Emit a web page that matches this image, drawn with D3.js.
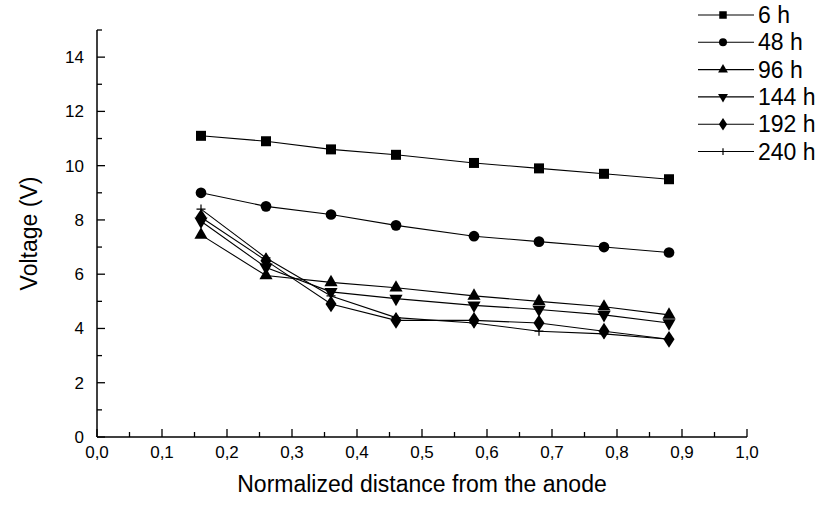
<!DOCTYPE html>
<html>
<head>
<meta charset="utf-8">
<script src="https://cdn.jsdelivr.net/npm/d3@7"></script>
<style>
  body { margin: 0; background: #fff; }
  svg { font-family: "Liberation Sans", Arial, sans-serif; }
</style>
</head>
<body>
<svg id="chart" width="824" height="505"></svg>
<script>
// data
let distances = [0.16, 0.26, 0.36, 0.46, 0.58, 0.68, 0.78, 0.88];
let seriesNames = ["6 h", "48 h", "96 h", "144 h", "192 h", "240 h"];
let v6 = [11.1, 10.9, 10.6, 10.4, 10.1, 9.9, 9.7, 9.5];
let v48 = [9.0, 8.5, 8.2, 7.8, 7.4, 7.2, 7.0, 6.8];
let v96 = [7.45, 5.95, 5.7, 5.5, 5.2, 5.0, 4.8, 4.5];
let v144 = [7.95, 6.25, 5.35, 5.1, 4.85, 4.7, 4.5, 4.2];
let v192 = [8.1, 6.5, 4.9, 4.3, 4.3, 4.2, 3.9, 3.6];
let v240 = [8.4, 6.6, 5.2, 4.4, 4.2, 3.9, 3.8, 3.6];
let seriesValues = [v6, v48, v96, v144, v192, v240];
let markers = ["square", "circle", "up", "down", "diamond", "plus"];
let xTicks = [0, 0.1, 0.2, 0.3, 0.4, 0.5, 0.6, 0.7, 0.8, 0.9, 1.0];
let yTicks = [0, 2, 4, 6, 8, 10, 12, 14];

let svg = d3.select("#chart");
let x = d3.scaleLinear().domain([0, 1]).range([97, 747]);
let y = d3.scaleLinear().domain([0, 15]).range([437, 30]);

let drawMarker = (g, type, cx, cy, k = 1) => {
    if (type == "plus") {
        let h = 4.5 * k;
        g.append("path")
            .attr("d", `M${cx - h},${cy} H${cx + h} M${cx},${cy - h} V${cy + h}`)
            .attr("stroke", "black").attr("stroke-width", 1.2).attr("fill", "none");
        return;
    }
    let sym = {
        square: [d3.symbolSquare, 100],
        circle: [d3.symbolCircle, 90],
        up: [d3.symbolTriangle, 75],
        down: [d3.symbolTriangle, 75],
        diamond: [d3.symbolDiamond, 80]
    }[type];
    g.append("path")
        .attr("d", d3.symbol().type(sym[0]).size(sym[1] * k * k)())
        .attr("fill", "black")
        .attr("transform", `translate(${cx},${cy})` + (type == "down" ? " rotate(180)" : "") + (type == "diamond" ? " scale(1.15,1)" : ""));
};

// axes
let xAxis = svg.append("g").attr("transform", `translate(0,${y(0)})`);
xAxis.append("line").attr("x1", x(0)).attr("x2", x(1)).attr("stroke", "black").attr("stroke-width", 1.5);
for (let t of d3.range(0, 1.001, 0.05)) {
    let major = Math.abs(Math.round(t * 10) - t * 10) < 1e-6;
    xAxis.append("line").attr("x1", x(t)).attr("x2", x(t))
        .attr("y1", 0).attr("y2", major ? -8 : -5)
        .attr("stroke", "black").attr("stroke-width", 1.3);
}
xAxis.selectAll("text.tick").data(xTicks).join("text")
    .attr("x", d => x(d)).attr("y", 21)
    .attr("text-anchor", "middle").attr("font-size", 17)
    .text(d => d3.format(".1f")(d).replace(".", ","));

let yAxis = svg.append("g").attr("transform", `translate(${x(0)},0)`);
yAxis.append("line").attr("y1", y(0)).attr("y2", y(15)).attr("stroke", "black").attr("stroke-width", 1.5);
yAxis.append("line").attr("x1", 0).attr("x2", 5).attr("y1", y(15)).attr("y2", y(15))
    .attr("stroke", "black").attr("stroke-width", 1.3);
for (let t = 0; t < 15; t++) {
    yAxis.append("line").attr("x1", 0).attr("x2", t % 2 == 0 ? 8 : 5)
        .attr("y1", y(t)).attr("y2", y(t))
        .attr("stroke", "black").attr("stroke-width", 1.3);
}
yAxis.selectAll("text.tick").data(yTicks).join("text")
    .attr("x", -13).attr("y", d => y(d) + 6)
    .attr("text-anchor", "end").attr("font-size", 17)
    .text(d => d);

svg.append("text").attr("x", 422).attr("y", 492)
    .attr("text-anchor", "middle").attr("font-size", 23)
    .text("Normalized distance from the anode");
svg.append("text").attr("transform", `translate(37,${y(7.5)}) rotate(-90)`)
    .attr("text-anchor", "middle").attr("font-size", 23)
    .text("Voltage (V)");

// series
let line = d3.line().x(d => x(d[0])).y(d => y(d[1]));
seriesValues.forEach((vals, i) => {
    let pts = distances.map((d, j) => [d, vals[j]]);
    svg.append("path").attr("d", line(pts))
        .attr("fill", "none").attr("stroke", "black").attr("stroke-width", 1.1);
    let g = svg.append("g");
    for (let p of pts) drawMarker(g, markers[i], x(p[0]), y(p[1]));
});

// legend
seriesNames.forEach((name, i) => {
    let ly = 15 + i * 27.3;
    let g = svg.append("g");
    g.append("line").attr("x1", 698).attr("x2", 754).attr("y1", ly).attr("y2", ly)
        .attr("stroke", "black").attr("stroke-width", 1.1);
    drawMarker(g, markers[i], 723, ly, 0.75);
    g.append("text").attr("x", 758).attr("y", ly + 8)
        .attr("font-size", 23).text(name);
});
</script>
</body>
</html>
